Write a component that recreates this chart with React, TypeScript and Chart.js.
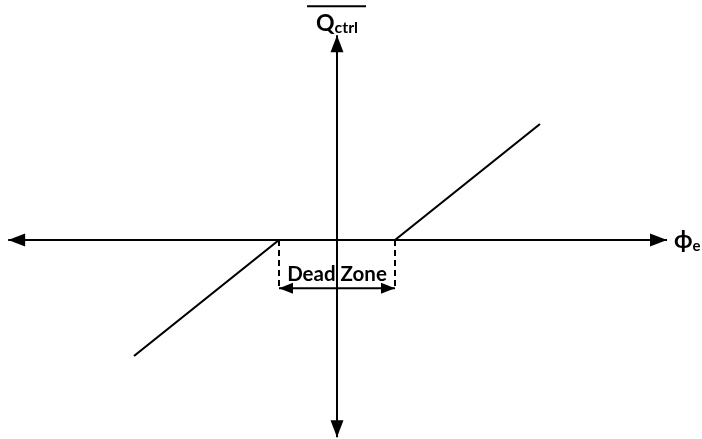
import React, { useEffect, useRef } from "react";
import { Chart, registerables } from "chart.js";

Chart.register(...registerables);

// Characteristic curve (phi_e -> Q_ctrl) with dead zone of half-width 1
const curveX = [-3.5, -1, 1, 3.5];
const curveY = [-2, 0, 0, 2];

// Axis extents (arrow tips)
const hAxisX = [-5.67, 5.69];
const vAxisY = [-3.4, 3.53];

// Dead-zone marker
const deadZoneEdges = [-1, 1];
const deadZoneArrowY = -0.83;

// Labels
const yLabelMain = "Q";
const yLabelSub = "ctrl";
const xLabelMain = "ϕ";
const xLabelSub = "e";
const deadZoneLabel = "Dead Zone";

const FONT = "Lato, 'Liberation Sans', sans-serif";

function arrowHead(ctx: CanvasRenderingContext2D, tx: number, ty: number, dx: number, dy: number, len = 17, half = 6.5) {
  const bx = tx - dx * len;
  const by = ty - dy * len;
  const px = -dy, py = dx;
  ctx.beginPath();
  ctx.moveTo(tx, ty);
  ctx.lineTo(bx + px * half, by + py * half);
  ctx.lineTo(bx - px * half, by - py * half);
  ctx.closePath();
  ctx.fill();
}

const decorPlugin = {
  id: "decor",
  afterDatasetsDraw(chart: any) {
    const { ctx, scales } = chart;
    const xs = scales.x, ys = scales.y;
    const x0 = xs.getPixelForValue(0);
    const y0 = ys.getPixelForValue(0);
    ctx.save();
    ctx.fillStyle = "#000";
    // axis arrowheads
    arrowHead(ctx, xs.getPixelForValue(hAxisX[0]), y0, -1, 0);
    arrowHead(ctx, xs.getPixelForValue(hAxisX[1]), y0, 1, 0);
    arrowHead(ctx, x0, ys.getPixelForValue(vAxisY[1]), 0, -1);
    arrowHead(ctx, x0, ys.getPixelForValue(vAxisY[0]), 0, 1);
    // dead zone double arrow heads
    const ay = ys.getPixelForValue(deadZoneArrowY);
    arrowHead(ctx, xs.getPixelForValue(deadZoneEdges[0]), ay, -1, 0, 14, 5.5);
    arrowHead(ctx, xs.getPixelForValue(deadZoneEdges[1]), ay, 1, 0, 14, 5.5);

    // Dead Zone text
    ctx.font = `bold 20.5px ${FONT}`;
    ctx.textAlign = "center";
    ctx.textBaseline = "alphabetic";
    const midX = (xs.getPixelForValue(deadZoneEdges[0]) + xs.getPixelForValue(deadZoneEdges[1])) / 2;
    ctx.fillText(deadZoneLabel, midX, ay - 7);

    // Y label Q_ctrl with overline
    const topY = ys.getPixelForValue(vAxisY[1]);
    ctx.textAlign = "left";
    ctx.font = `bold 23px ${FONT}`;
    const wQ = ctx.measureText(yLabelMain).width;
    ctx.font = `bold 16px ${FONT}`;
    const wS = ctx.measureText(yLabelSub).width;
    const startX = x0 - (wQ + wS) / 2;
    ctx.font = `bold 23px ${FONT}`;
    ctx.fillText(yLabelMain, startX, topY - 4);
    ctx.font = `bold 16px ${FONT}`;
    ctx.fillText(yLabelSub, startX + wQ, topY - 2);
    ctx.strokeStyle = "#000";
    ctx.lineWidth = 2;
    ctx.beginPath();
    ctx.moveTo(x0 - 30, topY - 29);
    ctx.lineTo(x0 + 29, topY - 29);
    ctx.stroke();

    // X label phi_e
    const rightX = xs.getPixelForValue(hAxisX[1]);
    ctx.font = `bold 24px ${FONT}`;
    ctx.fillText(xLabelMain, rightX + 7, y0 + 8);
    const wP = ctx.measureText(xLabelMain).width;
    ctx.font = `bold 15px ${FONT}`;
    ctx.fillText(xLabelSub, rightX + 7 + wP, y0 + 11);
    ctx.restore();
  },
};

export default function App() {
  const ref = useRef<HTMLCanvasElement>(null);
  useEffect(() => {
    const unit = 58;
    const cx = 337, cy = 240, W = 702, H = 439;
    const chart = new Chart(ref.current!, {
      type: "scatter",
      data: {
        datasets: [
          {
            data: hAxisX.map((x) => ({ x, y: 0 })),
            showLine: true, borderColor: "#000", borderWidth: 2, pointRadius: 0,
          },
          {
            data: vAxisY.map((y) => ({ x: 0, y })),
            showLine: true, borderColor: "#000", borderWidth: 2, pointRadius: 0,
          },
          {
            data: curveX.map((x, i) => ({ x, y: curveY[i] })),
            showLine: true, borderColor: "#000", borderWidth: 2.2, pointRadius: 0,
          },
          ...deadZoneEdges.map((x) => ({
            data: [{ x, y: 0 }, { x, y: deadZoneArrowY }],
            showLine: true, borderColor: "#000", borderWidth: 2, borderDash: [6, 4], pointRadius: 0,
          })),
          {
            data: deadZoneEdges.map((x) => ({ x, y: deadZoneArrowY })),
            showLine: true, borderColor: "#000", borderWidth: 2, pointRadius: 0,
          },
        ],
      },
      options: {
        animation: false,
        responsive: false,
        layout: { padding: 0 },
        plugins: { legend: { display: false }, tooltip: { enabled: false } },
        scales: {
          x: { type: "linear", display: false, min: -cx / unit, max: (W - cx) / unit },
          y: { type: "linear", display: false, min: (cy - H) / unit, max: cy / unit },
        },
      },
      plugins: [decorPlugin],
    } as any);
    return () => chart.destroy();
  }, []);
  return (
    <div style={{ position: "fixed", left: 0, top: 0, width: 702, height: 439, background: "#fff" }}>
      <canvas ref={ref} width={702} height={439} style={{ width: 702, height: 439 }} />
    </div>
  );
}
